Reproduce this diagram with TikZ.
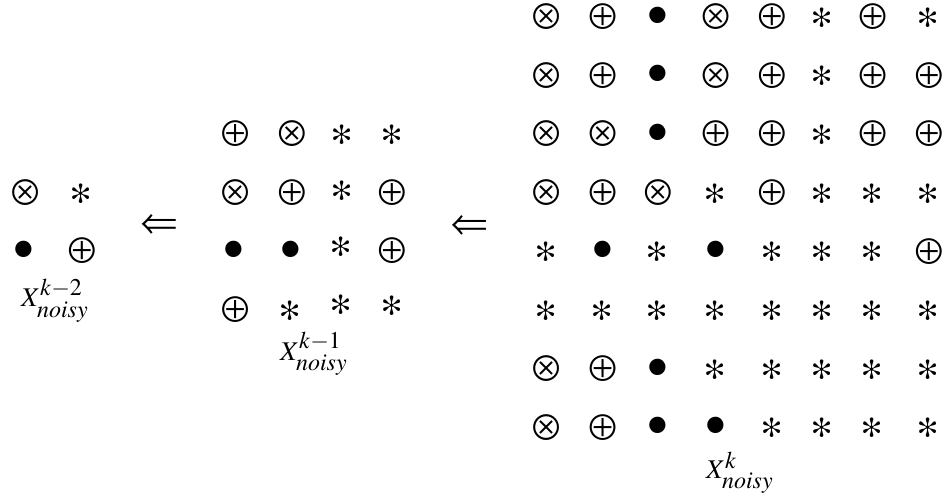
\documentclass[tikz,border=0pt]{standalone}
\usepackage{mathptmx}
\usepackage{pifont}
\DeclareMathSizes{27}{27}{24}{18}

% glyph contents, taken from the Symbol font
\newcommand\glypho{\Pisymbol{psy}{"C4}}% circled times
\newcommand\glyphp{\Pisymbol{psy}{"C5}}% circled plus
\newcommand\glyphb{\Pisymbol{psy}{"B7}}% bullet
\newcommand\glypha{\Pisymbol{psy}{"2A}}% math asterisk
% place one glyph: name, kind (o,p,b,a), x, y (y measured downwards)
\newcommand\glyphat[4]{%
  \node[glyph,sym#2] (#1) at (#3,-#4) {\csname glyph#2\endcsname};}

\tikzset{
  glyph/.style={anchor=base, inner sep=0pt, font=\fontsize{37.5}{37.5}\selectfont},
  symo/.style={yshift=-12.5pt},
  symp/.style={yshift=-12.5pt},
  symb/.style={yshift=-13.3pt, font=\fontsize{45}{45}\selectfont},
  syma/.style={yshift=-16.0pt, font=\fontsize{47}{47}\selectfont},
  dblarrow/.style={glyph, yshift=-9.2pt},
  lbl/.style={anchor=base west, inner sep=0pt,
    font=\fontsize{27}{27}\selectfont},
}

\begin{document}
\begin{tikzpicture}[x=1pt,y=1pt]
\useasboundingbox (0,0) rectangle (943,-499);

% left 2x2 block
\glyphat{L-1-1}{o}{25}{193}
\glyphat{L-1-2}{a}{81}{193}
\glyphat{L-2-1}{b}{24}{251}
\glyphat{L-2-2}{p}{81.7}{251}
\node[lbl] (labL) at (21,-306.7) {$X^{k-2}_{noisy}$};

% middle 4x4 block
\glyphat{M-1-1}{p}{235}{134}
\glyphat{M-1-2}{o}{291.7}{134}
\glyphat{M-1-3}{a}{342.3}{134}
\glyphat{M-1-4}{a}{392.3}{134}
\glyphat{M-2-1}{o}{235}{193.3}
\glyphat{M-2-2}{p}{291.7}{193.3}
\glyphat{M-2-3}{a}{342.3}{190.8}
\glyphat{M-2-4}{p}{391.7}{193.3}
\glyphat{M-3-1}{b}{234}{251}
\glyphat{M-3-2}{b}{290.7}{251}
\glyphat{M-3-3}{a}{341.7}{246.7}
\glyphat{M-3-4}{p}{391.7}{251}
\glyphat{M-4-1}{p}{235}{310}
\glyphat{M-4-2}{a}{290.7}{310}
\glyphat{M-4-3}{a}{341.7}{304}
\glyphat{M-4-4}{a}{392.3}{305.7}
\node[lbl] (labM) at (280,-360) {$X^{k-1}_{noisy}$};

% right 8x8 block
\foreach \row [count=\r] in {%
  {o,p,b,o,p,a,p,a},
  {o,p,b,o,p,a,p,p},
  {o,o,b,p,p,a,p,p},
  {o,p,o,a,p,a,a,a},
  {a,b,a,b,a,a,a,p},
  {a,a,a,a,a,a,a,a},
  {o,p,b,a,a,a,a,a},
  {o,p,b,b,a,a,a,a}} {
  \foreach \k [count=\c] in \row {
    \pgfmathsetmacro\xx{{546,602.5,657.7,715.4,771.8,822,872.6,928.7}[\c-1]}
    \pgfmathsetmacro\yy{17+(\r-1)*58.67}
    \glyphat{R-\r-\c}{\k}{\xx}{\yy}
  }
}
\node[lbl] (labR) at (706,-478) {$X^{k}_{noisy}$};

% arrows between the blocks
\node[dblarrow] (arrL) at (159.2,-224) {\Pisymbol{psy}{"DC}};
\node[dblarrow] (arrR) at (469.5,-225) {\Pisymbol{psy}{"DC}};
\end{tikzpicture}
\end{document}
